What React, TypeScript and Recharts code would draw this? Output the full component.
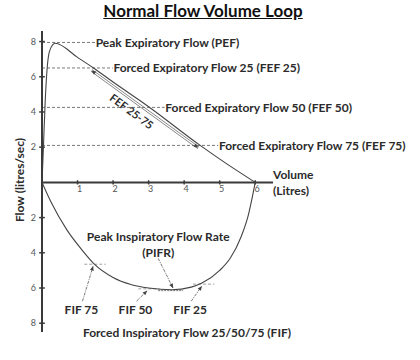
import React from "react";
import { LineChart, Line, XAxis, YAxis, ReferenceLine, ReferenceDot } from "recharts";

const expVolume = [0, 0.04, 0.09, 0.15, 0.22, 0.37, 1.0, 1.45, 2.0, 3.0, 4.45, 5.2, 6.0];
const expFlow = [0, 2.0, 4.6, 6.6, 7.5, 7.9, 7.1, 6.5, 5.7, 4.3, 2.1, 1.05, 0];
const inspVolume = [0, 0.25, 0.7, 1.15, 1.45, 2.0, 2.5, 3.0, 3.65, 4.2, 4.5, 5.0, 5.3, 5.6, 5.8, 6.0];
const inspFlow = [0, -1.1, -2.7, -3.9, -4.6, -5.4, -5.8, -6.0, -6.1, -5.95, -5.72, -5.0, -4.3, -3.1, -1.9, 0];

const volumeTicks = [1, 2, 3, 4, 5, 6];
const flowTicks = [-8, -6, -4, -2, 2, 4, 6, 8];

// expiratory markers: dashed line from the axis out to the label
const expLabels = [
  "Peak Expiratory Flow (PEF)",
  "Forced Expiratory Flow 25 (FEF 25)",
  "Forced Expiratory Flow 50 (FEF 50)",
  "Forced Expiratory Flow 75 (FEF 75)",
];
const expMarkFlow = [7.95, 6.5, 4.26, 2.1];
const expMarkEnd = [1.49, 1.99, 3.45, 4.96];

// inspiratory markers
const fifLabels = ["FIF 75", "FIF 50", "FIF 25"];
const fifVolume = [1.44, 2.96, 4.5];
const fifFlow = [-4.65, -6.05, -5.78];
const pifrVolume = 3.69;
const pifrFlow = -6.1;

const expData = expVolume.map((v, i) => ({ v, f: expFlow[i] }));
const inspData = inspVolume.map((v, i) => ({ v, f: inspFlow[i] }));

const FONT = "Lato, 'Open Sans', sans-serif";
const TEXT = "#2b2b2b";
const AXIS = "#3a3a3a";

const textShape =
  (value: string, opts: { anchor?: "start" | "middle" | "end"; size?: number; rotate?: number } = {}) =>
  (p: any) => (
    <text
      x={p.cx}
      y={p.cy}
      textAnchor={opts.anchor ?? "middle"}
      dominantBaseline="central"
      fontFamily={FONT}
      fontWeight={700}
      fontSize={opts.size ?? 12}
      fill={TEXT}
      transform={opts.rotate ? `rotate(${opts.rotate} ${p.cx} ${p.cy})` : undefined}
    >
      {value}
    </text>
  );

const arrowShape = (dash: string) => (p: any) => {
  const { x1, y1, x2, y2 } = p;
  const a = Math.atan2(y2 - y1, x2 - x1);
  const h = 5;
  const pts = [
    [x2, y2],
    [x2 - h * Math.cos(a - 0.4), y2 - h * Math.sin(a - 0.4)],
    [x2 - h * Math.cos(a + 0.4), y2 - h * Math.sin(a + 0.4)],
  ]
    .map((q) => q.join(","))
    .join(" ");
  return (
    <g>
      <line x1={x1} y1={y1} x2={x2} y2={y2} stroke="#555" strokeWidth={0.8} strokeDasharray={dash} />
      <polygon points={pts} fill="#444" />
    </g>
  );
};

// FEF 25-75 double line with heads at both ends
const doubleArrow = (p: any) => {
  const { x1, y1, x2, y2 } = p;
  const a = Math.atan2(y2 - y1, x2 - x1);
  const nx = Math.sin(a);
  const ny = -Math.cos(a);
  const h = 5;
  const head = (x: number, y: number, ang: number) =>
    [
      [x, y],
      [x - h * Math.cos(ang - 0.4), y - h * Math.sin(ang - 0.4)],
      [x - h * Math.cos(ang + 0.4), y - h * Math.sin(ang + 0.4)],
    ]
      .map((q) => q.join(","))
      .join(" ");
  return (
    <g stroke="#555" strokeWidth={0.7}>
      <line x1={x1 - nx * 2} y1={y1 - ny * 2} x2={x2 - nx * 2} y2={y2 - ny * 2} />
      <line x1={x1 - nx * 4} y1={y1 - ny * 4} x2={x2 - nx * 4} y2={y2 - ny * 4} />
      <polygon points={head(x2 - nx * 3, y2 - ny * 3, a)} fill="#444" stroke="none" />
      <polygon points={head(x1 - nx * 3, y1 - ny * 3, a + Math.PI)} fill="#444" stroke="none" />
    </g>
  );
};

const tickCross = (label: string, below: boolean) => (p: any) => {
  const { x1, y1, x2, y2 } = p;
  return (
    <g>
      <line x1={x1} y1={y1} x2={x2} y2={y2} stroke={AXIS} strokeWidth={1.5} />
      {below && (
        <text x={x1 + 2} y={y2 + 8} textAnchor="middle" fontFamily={FONT} fontSize={9} fill="#555">
          {label}
        </text>
      )}
    </g>
  );
};

export default function App() {
  return (
    <div style={{ position: "absolute", left: 0, top: 0, width: 420, height: 360, fontFamily: FONT, background: "#fff" }}>
      <div
        style={{
          position: "absolute",
          left: 0,
          width: 406,
          top: 1,
          textAlign: "center",
          fontSize: 17,
          fontWeight: 700,
          color: "#111",
          textDecoration: "underline",
          lineHeight: "20px",
        }}
      >
        Normal Flow Volume Loop
      </div>
      <div
        style={{
          position: "absolute",
          left: 19,
          top: 180,
          transform: "translate(-50%, -50%) rotate(-90deg)",
          whiteSpace: "nowrap",
          fontSize: 12,
          fontWeight: 700,
          color: TEXT,
        }}
      >
        Flow (litres/sec)
      </div>
      <LineChart width={420} height={360} margin={{ top: 31, right: 147, bottom: 28, left: 22 }}>
        <XAxis type="number" dataKey="v" domain={[0, 6.5]} hide allowDataOverflow />
        <YAxis
          type="number"
          dataKey="f"
          domain={[-8.5, 8.6]}
          ticks={flowTicks}
          width={20}
          tickFormatter={(t: number) => String(Math.abs(t))}
          tick={{ fontSize: 9, fill: "#555", fontFamily: FONT }}
          tickLine={false}
          tickSize={3}
          tickMargin={3}
          axisLine={{ stroke: AXIS, strokeWidth: 2 }}
          allowDataOverflow
        />
        <ReferenceLine y={0} stroke={AXIS} strokeWidth={2} />
        {volumeTicks.map((t) => (
          <ReferenceLine
            key={"vx" + t}
            segment={[{ x: t, y: 0.12 }, { x: t, y: -0.12 }]}
            shape={tickCross(String(t), true)}
            ifOverflow="visible"
          />
        ))}
        {flowTicks.map((t) => (
          <ReferenceLine
            key={"fy" + t}
            segment={[{ x: -0.08, y: t }, { x: 0.08, y: t }]}
            shape={tickCross("", false)}
            ifOverflow="visible"
          />
        ))}

        {expLabels.map((label, i) => (
          <ReferenceLine
            key={"el" + i}
            segment={[{ x: 0, y: expMarkFlow[i] }, { x: expMarkEnd[i], y: expMarkFlow[i] }]}
            stroke="#555"
            strokeWidth={0.8}
            strokeDasharray="3 2"
          />
        ))}
        {expLabels.map((label, i) => (
          <ReferenceDot
            key={"et" + i}
            x={expMarkEnd[i] + 0.02}
            y={expMarkFlow[i]}
            r={0}
            ifOverflow="visible"
            shape={textShape(label, { anchor: "start" })}
          />
        ))}
        <ReferenceLine segment={[{ x: 1.44, y: 6.5 }, { x: 4.45, y: 2.1 }]} shape={doubleArrow} />
        <ReferenceDot x={2.53} y={4.05} r={0} shape={textShape("FEF 25-75", { size: 11, rotate: 36.6 })} />

        {fifVolume.map((v, i) => (
          <ReferenceLine
            key={"fd" + i}
            segment={[{ x: v - 0.25, y: fifFlow[i] }, { x: v + 0.35, y: fifFlow[i] }]}
            stroke="#888"
            strokeWidth={0.8}
            strokeDasharray="3 2"
          />
        ))}
        <ReferenceLine
          segment={[{ x: pifrVolume - 0.42, y: pifrFlow - 0.05 }, { x: pifrVolume + 0.28, y: pifrFlow - 0.05 }]}
          stroke="#555"
          strokeWidth={0.8}
          strokeDasharray="2 1"
        />
        {fifVolume.map((v, i) => (
          <ReferenceLine
            key={"fa" + i}
            segment={[{ x: v - 0.3, y: -6.75 }, { x: v, y: fifFlow[i] - 0.1 }]}
            shape={arrowShape("3 1 1 1")}
          />
        ))}
        <ReferenceLine segment={[{ x: 3.27, y: -4.32 }, { x: pifrVolume, y: pifrFlow + 0.08 }]} shape={arrowShape("3 1 1 1")} />
        {fifLabels.map((label, i) => (
          <ReferenceDot key={"fl" + i} x={fifVolume[i] - 0.33} y={-7.25} r={0} shape={textShape(label)} />
        ))}
        <ReferenceDot x={3.27} y={-3.1} r={0} shape={textShape("Peak Inspiratory Flow Rate")} />
        <ReferenceDot x={3.27} y={-4.0} r={0} shape={textShape("(PIFR)")} />
        <ReferenceDot x={4.08} y={-8.5} r={0} ifOverflow="visible" shape={textShape("Forced Inspiratory Flow 25/50/75 (FIF)")} />
        <ReferenceDot x={6.5} y={0.45} r={0} ifOverflow="visible" shape={textShape("Volume", { anchor: "start" })} />
        <ReferenceDot x={6.5} y={-0.45} r={0} ifOverflow="visible" shape={textShape("(Litres)", { anchor: "start" })} />

        <Line data={expData} dataKey="f" type="monotone" dot={false} stroke="#444" strokeWidth={1.1} isAnimationActive={false} />
        <Line data={inspData} dataKey="f" type="monotone" dot={false} stroke="#444" strokeWidth={1.1} isAnimationActive={false} />
      </LineChart>
    </div>
  );
}
